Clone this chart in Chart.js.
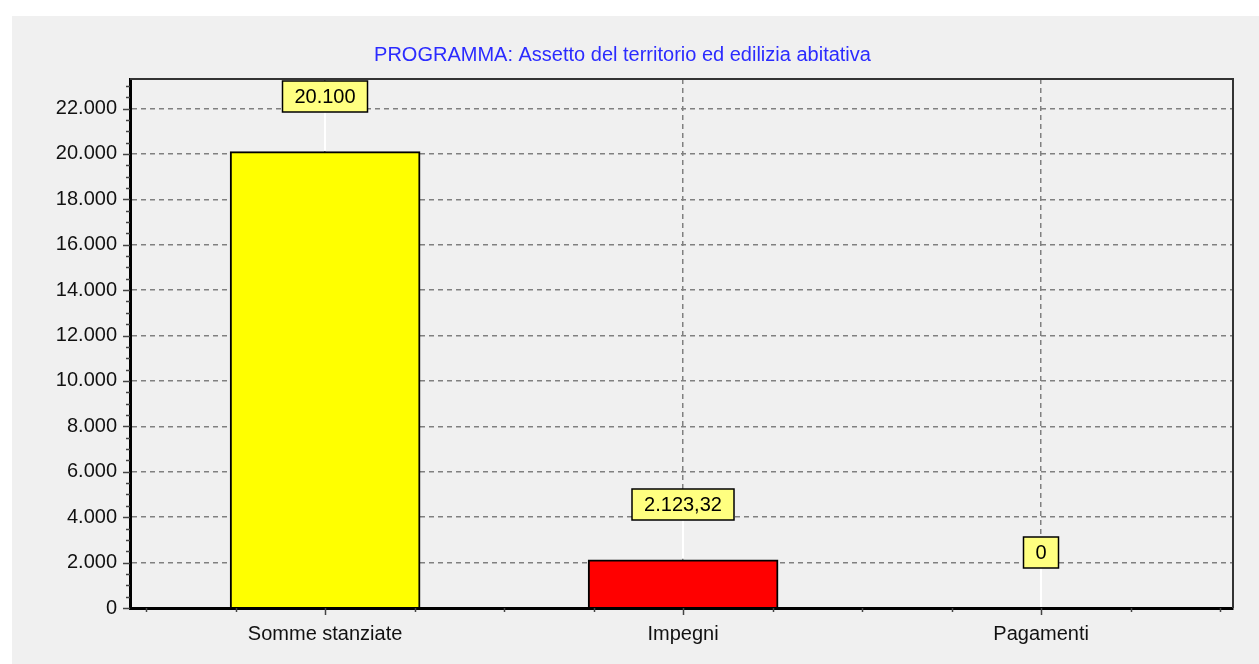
<!DOCTYPE html>
<html>
<head>
<meta charset="utf-8">
<script src="https://cdn.jsdelivr.net/npm/chart.js@4"></script>
<style>
  html, body { margin: 0; padding: 0; background: #fff; }
  #wrap { position: absolute; left: 12px; top: 16px; width: 1247px; height: 648px; background: #f0f0f0; }
</style>
</head>
<body>
<div id="wrap"><canvas id="spesaChart"></canvas></div>
<script>
const titolo = "PROGRAMMA: Assetto del territorio ed edilizia abitativa";
const categorie = ["Somme stanziate", "Impegni", "Pagamenti"];
const importi = [20100, 2123.32, 0];
const coloriBarre = ["#ffff00", "#ff0000", "#0000ff"];
const yTicks = [0, 2000, 4000, 6000, 8000, 10000, 12000, 14000, 16000, 18000, 20000, 22000];
const yMax = 23300;

const FONT = '"Liberation Sans", Arial, sans-serif';
Chart.defaults.font.family = FONT;
Chart.defaults.font.size = 20;
Chart.defaults.color = "#000";

// numeri all'italiana: 2.123,32
function formatIt(v) {
  let [int, dec] = (Math.round(v * 100) / 100).toString().split(".");
  int = int.replace(/\B(?=(\d{3})+(?!\d))/g, ".");
  return dec ? int + "," + dec : int;
}

const cornice = {
  id: "cornice",
  afterDraw: chart => {
    const ctx = chart.ctx;
    const a = chart.chartArea;
    const xs = chart.scales.x, ys = chart.scales.y;
    ctx.save();

    // bordo alto e destro
    ctx.strokeStyle = "#333";
    ctx.lineWidth = 2;
    ctx.beginPath();
    ctx.moveTo(a.left, a.top);
    ctx.lineTo(a.right, a.top);
    ctx.lineTo(a.right, a.bottom);
    ctx.stroke();

    // tacche minori / maggiori
    ctx.strokeStyle = "#444";
    ctx.lineWidth = 1.5;
    ctx.beginPath();
    for (let v = 0; v <= yMax; v += 500) {
      const y = Math.round(ys.getPixelForValue(v)) + 0.5;
      const len = v % 2000 === 0 ? 6 : 3;
      ctx.moveTo(a.left - len - 1, y);
      ctx.lineTo(a.left, y);
    }
    for (let k = -2; k <= 10; k++) {
      const x = Math.round(xs.getPixelForValue(k / 4)) + 0.5;
      const len = k % 4 === 0 ? 7 : 4;
      ctx.moveTo(x, a.bottom);
      ctx.lineTo(x, a.bottom + len);
    }
    ctx.stroke();

    // etichette dei valori
    const meta = chart.getDatasetMeta(0);
    ctx.font = "20px " + FONT;
    meta.data.forEach((bar, i) => {
      const testo = formatIt(importi[i]);
      const w = Math.round(ctx.measureText(testo).width + 24);
      const h = 31;
      const x = Math.round(bar.x);
      const fondo = Math.round(bar.y) - 40;

      ctx.strokeStyle = "#fff";
      ctx.lineWidth = 2;
      ctx.beginPath();
      ctx.moveTo(x, bar.y - 1);
      ctx.lineTo(x, fondo);
      ctx.stroke();

      ctx.fillStyle = "#ffff80";
      ctx.fillRect(x - w / 2, fondo - h, w, h);
      ctx.strokeStyle = "#000";
      ctx.lineWidth = 1.5;
      ctx.strokeRect(x - w / 2, fondo - h, w, h);

      ctx.fillStyle = "#000";
      ctx.textAlign = "center";
      ctx.textBaseline = "middle";
      ctx.fillText(testo, x, fondo - h / 2 + 1);
    });
    ctx.restore();
  }
};

const chart = new Chart(document.getElementById("spesaChart"), {
  type: "bar",
  data: {
    datasets: [{
      data: importi.map((v, i) => ({ x: i, y: v })),
      backgroundColor: coloriBarre,
      borderColor: "#000",
      borderWidth: 2,
      barThickness: 190
    }]
  },
  options: {
    responsive: true,
    maintainAspectRatio: false,
    animation: false,
    layout: { padding: { left: 0, right: 26, top: 0, bottom: 0 } },
    scales: {
      x: {
        type: "linear",
        min: -0.545,
        max: 2.536,
        offset: false,
        afterBuildTicks: s => { s.ticks = categorie.map((_, i) => ({ value: i })); },
        afterFit: s => { s.height = 56; },
        ticks: {
          padding: 14,
          color: "#111",
          callback: v => categorie[Math.round(v)] ?? ""
        },
        grid: { offset: false, drawTicks: false, color: "#808080", lineWidth: 1.5 },
        border: { display: true, color: "#000", width: 3, dash: [5, 4], z: 1 }
      },
      y: {
        min: 0,
        max: yMax,
        afterBuildTicks: s => { s.ticks = yTicks.map(v => ({ value: v })); },
        afterFit: s => { s.width = 118; },
        ticks: {
          padding: 13,
          color: "#111",
          callback: v => formatIt(v)
        },
        grid: { drawTicks: false, color: "#808080", lineWidth: 1.5 },
        border: { display: true, color: "#000", width: 3, dash: [5, 4], z: 1 }
      }
    },
    plugins: {
      legend: { display: false },
      tooltip: { enabled: false },
      title: {
        display: true,
        text: titolo,
        color: "#2b2bff",
        font: { size: 20, weight: "normal" },
        padding: { top: 27, bottom: 12 }
      }
    }
  },
  plugins: [cornice]
});
</script>
</body>
</html>
